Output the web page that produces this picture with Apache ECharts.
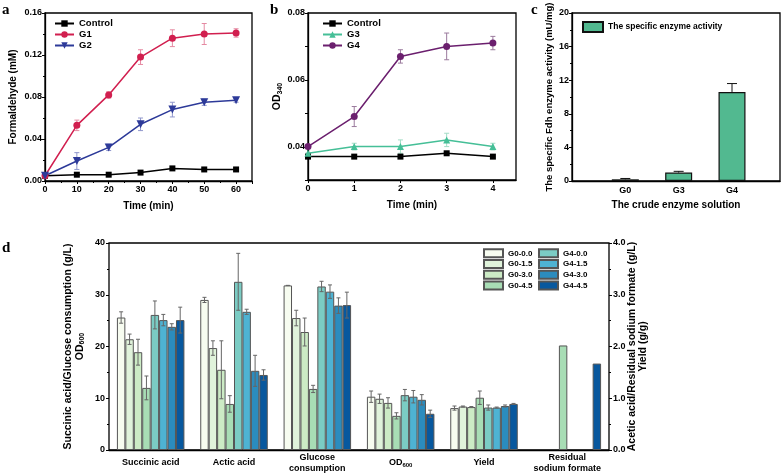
<!DOCTYPE html>
<html><head><meta charset="utf-8">
<script src="https://cdn.jsdelivr.net/npm/echarts@6/dist/echarts.min.js"></script>
<style>html,body{margin:0;padding:0;background:#fff}#c{width:783px;height:476px}</style>
</head><body><div id="c"></div>
<script>
// ---------- Panel a ----------
const timeA = [0,10,20,30,40,50,60];
const ctrlA = [0.005,0.006,0.006,0.008,0.012,0.011,0.011];
const ctrlAErr = [0,0,0,0,0.001,0.001,0];
const g1A = [0.005,0.053,0.082,0.118,0.136,0.140,0.141];
const g1AErr = [0,0.005,0.003,0.007,0.008,0.010,0.004];
const g2A = [0.005,0.019,0.032,0.054,0.068,0.075,0.077];
const g2AErr = [0,0.008,0.003,0.006,0.007,0.003,0.002];
// ---------- Panel b ----------
const timeB = [0,1,2,3,4];
const ctrlB = [0.037,0.037,0.037,0.038,0.037];
const g3B = [0.038,0.040,0.040,0.042,0.040];
const g3BErr = [0,0.001,0.002,0.002,0.001];
const g4B = [0.040,0.049,0.067,0.070,0.071];
const g4BErr = [0,0.003,0.002,0.004,0.002];
// ---------- Panel c ----------
const enzymeCats = ['G0','G3','G4'];
const enzymeVals = [0.2,1.0,10.6];
const enzymeErr = [0.1,0.15,1.0];
// ---------- Panel d ----------
const groupCats = ['Succinic acid','Actic acid','Glucose\nconsumption','OD600','Yield','Residual\nsodium formate'];
const treatNames = ['G0-0.0','G0-1.5','G0-3.0','G0-4.5','G4-0.0','G4-1.5','G4-3.0','G4-4.5'];
const succinicVals = [25.6,21.4,18.9,12.0,26.1,25.1,23.8,25.1];
const succinicErr  = [1.1,1.0,2.5,2.3,2.7,1.1,0.6,2.5];
const aceticVals   = [2.90,1.97,1.55,0.89,3.25,2.67,1.53,1.45];
const aceticErr    = [0.05,0.14,0.56,0.16,0.55,0.05,0.30,0.10];
const glucoseVals  = [31.8,25.5,22.8,11.8,31.6,30.6,27.9,28.0];
const glucoseErr   = [0,1.5,2.7,0.7,1.0,1.3,1.5,2.5];
const od600Vals    = [10.3,9.9,9.1,6.6,10.6,10.3,9.7,7.0];
const od600Err     = [1.1,0.9,1.0,0.6,1.1,1.2,1.0,0.7];
const yieldVals    = [0.81,0.84,0.83,1.01,0.82,0.82,0.85,0.89];
const yieldErr     = [0.04,0.01,0.01,0.13,0.05,0.01,0.02,0.01];
const formateVals  = [null,null,null,2.02,null,null,null,1.67];
const treatColors = ['#f7fcf0','#e0f3db','#ccebc5','#a8ddb5','#7bccc4','#4eb3d3','#2b8cbe','#08589e'];

const FONT = 'Liberation Sans';
const tick = {fontFamily:FONT,fontWeight:'bold',fontSize:9,color:'#000'};
const nameStyle = {fontFamily:FONT,fontWeight:'bold',fontSize:10,color:'#000'};
const axLine = {lineStyle:{color:'#000',width:1.3}};
const axTick = {show:true,length:3,lineStyle:{color:'#000',width:1}};
const minor = {show:true,splitNumber:2,length:2,lineStyle:{color:'#000',width:1}};
const CAT_GAP = 0.19;

function errRender(color, capW, upOnly, nBars){
  return function(params, api){
    const x = api.value(0), y = api.value(1), e = api.value(2);
    const hi = api.coord([x, y + e]);
    const lo = api.coord([x, upOnly ? y : y - e]);
    let cx = hi[0];
    if (nBars){
      const band = api.size([1,0])[0];
      const inner = band * (1 - CAT_GAP);
      const bw = inner / nBars;
      cx += -inner/2 + bw * (api.value(3) + 0.5);
    }
    const st = {stroke:color, lineWidth:1};
    const ch = [{type:'line',shape:{x1:cx,y1:hi[1],x2:cx,y2:lo[1]},style:st},
                {type:'line',shape:{x1:cx-capW,y1:hi[1],x2:cx+capW,y2:hi[1]},style:st}];
    if (!upOnly) ch.push({type:'line',shape:{x1:cx-capW,y1:lo[1],x2:cx+capW,y2:lo[1]},style:st});
    return {type:'group',children:ch};
  };
}
function errSeries(name, xi, yi, data, color, capW, upOnly, nBars, z){
  return {type:'custom',name:name,xAxisIndex:xi,yAxisIndex:yi,data:data,z:z||3,silent:true,
    renderItem:errRender(color,capW,upOnly,nBars),encode:{x:0,y:1}};
}
function lineSeries(name, xi, yi, xs, ys, color, symbol, size, rot){
  return {type:'line',name:name,xAxisIndex:xi,yAxisIndex:yi,data:xs.map((t,i)=>[t,ys[i]]),
    symbol:symbol,symbolSize:size,symbolRotate:rot||0,z:5,
    lineStyle:{color:color,width:1.5},itemStyle:{color:color},color:color};
}

const series = [];
// a
series.push(errSeries('eA0',0,0,timeA.map((t,i)=>[t,ctrlA[i],ctrlAErr[i]]),'#777',2.5));
series.push(errSeries('eA1',0,0,timeA.map((t,i)=>[t,g1A[i],g1AErr[i]]),'#e58aa2',2.5));
series.push(errSeries('eA2',0,0,timeA.map((t,i)=>[t,g2A[i],g2AErr[i]]),'#9097cc',2.5));
series.push(lineSeries('Control',0,0,timeA,ctrlA,'#000','rect',6));
series.push(lineSeries('G1',0,0,timeA,g1A,'#d11f4f','circle',7));
series.push(lineSeries('G2',0,0,timeA,g2A,'#2d3a99','triangle',8,180));
// b
series.push(errSeries('eB1',1,1,timeB.map((t,i)=>[t,g3B[i],g3BErr[i]]),'#a3dcc6',2.5));
series.push(errSeries('eB2',1,1,timeB.map((t,i)=>[t,g4B[i],g4BErr[i]]),'#9b7a9d',2.5));
series.push(lineSeries('Control',1,1,timeB,ctrlB,'#000','rect',6));
series.push(lineSeries('G3',1,1,timeB,g3B,'#45bf97','triangle',7));
series.push(lineSeries('G4',1,1,timeB,g4B,'#6b1f6e','circle',7));
// c
series.push({type:'bar',name:'The specific enzyme activity',xAxisIndex:2,yAxisIndex:2,barWidth:27,
  data:enzymeVals.map((v,i)=>[i+1,v]),itemStyle:{color:'#52b990',borderColor:'#111',borderWidth:1.2},z:2});
series.push(errSeries('eC',2,2,enzymeVals.map((v,i)=>[i+1,v,enzymeErr[i]]),'#111',5,true,0,1));
// d
treatNames.forEach((nm,i)=>{
  series.push({type:'bar',name:nm,xAxisIndex:3,yAxisIndex:3,barGap:'0%',barCategoryGap:(CAT_GAP*100)+'%',
    data:[succinicVals[i],null,glucoseVals[i],od600Vals[i],null,null],
    itemStyle:{color:treatColors[i],borderColor:'#555',borderWidth:1}});
});
treatNames.forEach((nm,i)=>{
  series.push({type:'bar',name:nm,xAxisIndex:4,yAxisIndex:4,barGap:'0%',barCategoryGap:(CAT_GAP*100)+'%',
    data:[null,aceticVals[i],null,null,yieldVals[i],formateVals[i]],
    itemStyle:{color:treatColors[i],borderColor:'#555',borderWidth:1}});
});
const errL = [], errR = [];
treatNames.forEach((nm,i)=>{
  errL.push([0,succinicVals[i],succinicErr[i],i]);
  errL.push([2,glucoseVals[i],glucoseErr[i],i]);
  errL.push([3,od600Vals[i],od600Err[i],i]);
  errR.push([1,aceticVals[i],aceticErr[i],i]);
  errR.push([4,yieldVals[i],yieldErr[i],i]);
});
series.push(errSeries('eDL',3,3,errL,'#666',2,false,8,10));
series.push(errSeries('eDR',4,4,errR,'#666',2,false,8,10));

const legTxt = {fontFamily:FONT,fontWeight:'bold',fontSize:9.5,color:'#000',lineHeight:11};
const legTxtD = {fontFamily:FONT,fontWeight:'bold',fontSize:8,color:'#000',lineHeight:10.7};
const gridBase = {show:true,borderColor:'#000',borderWidth:1.3,backgroundColor:'transparent'};

const option = {
  animation:false,
  backgroundColor:'#fff',
  grid:[
    Object.assign({left:45,top:13,width:207,height:168},gridBase),
    Object.assign({left:308,top:13,width:208,height:167},gridBase),
    Object.assign({left:572,top:13,width:210,height:168},gridBase),
    Object.assign({left:109,top:243,width:500,height:207},gridBase)
  ],
  xAxis:[
    {gridIndex:0,type:'value',min:0,max:65,interval:10,axisLine:axLine,axisTick:axTick,minorTick:minor,splitLine:{show:false},
      axisLabel:Object.assign({margin:4,showMaxLabel:false,formatter:v=>v%10===0?String(v):''},tick),
      name:'Time (min)',nameLocation:'middle',nameGap:20,nameMoveOverlap:false,nameTextStyle:nameStyle},
    {gridIndex:1,type:'value',min:0,max:4.5,interval:1,axisLine:axLine,axisTick:axTick,splitLine:{show:false},
      axisLabel:Object.assign({margin:4,showMaxLabel:false,formatter:v=>Number.isInteger(v)?String(v):''},tick),
      name:'Time (min)',nameLocation:'middle',nameGap:20,nameMoveOverlap:false,nameTextStyle:nameStyle},
    {gridIndex:2,type:'value',min:0,max:3.9,interval:1,axisLine:axLine,axisTick:{show:false},splitLine:{show:false},
      axisLabel:Object.assign({margin:5,formatter:v=>enzymeCats[v-1]||''},tick),
      name:'The crude enzyme solution',nameLocation:'middle',nameGap:19,nameMoveOverlap:false,nameTextStyle:nameStyle},
    {gridIndex:3,type:'category',data:groupCats,axisLine:axLine,axisTick:{show:false},
      axisLabel:Object.assign({margin:13,verticalAlign:'middle',lineHeight:11,interval:0,
        formatter:v=>v==='OD600'?'{o|OD}{s|600}':v,
        rich:{o:{fontFamily:FONT,fontWeight:'bold',fontSize:9,color:'#000'},
              s:{fontFamily:FONT,fontWeight:'bold',fontSize:6,color:'#000',padding:[5,0,0,0]}}},tick)},
    {gridIndex:3,type:'category',data:groupCats,show:false}
  ],
  yAxis:[
    {gridIndex:0,type:'value',min:0,max:0.16,interval:0.04,axisLine:axLine,axisTick:axTick,minorTick:minor,splitLine:{show:false},
      axisLabel:Object.assign({margin:3,formatter:v=>v.toFixed(2)},tick),
      name:'Formaldehyde (mM)',nameLocation:'middle',nameRotate:90,nameGap:27,nameMoveOverlap:false,nameTextStyle:nameStyle},
    {gridIndex:1,type:'value',min:0.03,max:0.08,interval:0.01,axisLine:axLine,axisTick:axTick,splitLine:{show:false},
      axisLabel:Object.assign({margin:3,formatter:v=>{const k=Math.round(v*100);return (k%2===0&&k>=4)?v.toFixed(2):'';}},tick),
      name:'{o|OD}{s|340}',nameLocation:'middle',nameRotate:90,nameGap:24,nameMoveOverlap:false,
      nameTextStyle:Object.assign({rich:{o:{fontFamily:FONT,fontWeight:'bold',fontSize:10.5,color:'#000'},
        s:{fontFamily:FONT,fontWeight:'bold',fontSize:7,color:'#000',padding:[6,0,0,0]}}},nameStyle)},
    {gridIndex:2,type:'value',min:0,max:20,interval:4,axisLine:axLine,axisTick:axTick,minorTick:minor,splitLine:{show:false},
      axisLabel:Object.assign({margin:3},tick),
      name:'The specific Fdh enzyme activity (mU/mg)',nameLocation:'middle',nameRotate:90,nameGap:18,nameMoveOverlap:false,
      nameTextStyle:Object.assign({},nameStyle,{fontSize:9.5})},
    {gridIndex:3,type:'value',min:0,max:40,interval:10,axisLine:axLine,axisTick:axTick,minorTick:minor,splitLine:{show:false},
      axisLabel:Object.assign({margin:4},tick),
      name:'Succinic acid/Glucose consumption (g/L)\n{o|OD}{s|600}',nameLocation:'middle',nameRotate:90,nameGap:23,nameMoveOverlap:false,
      nameTextStyle:Object.assign({},nameStyle,{fontSize:10.5,lineHeight:12,
        rich:{o:{fontFamily:FONT,fontWeight:'bold',fontSize:10.5,color:'#000',lineHeight:12},
              s:{fontFamily:FONT,fontWeight:'bold',fontSize:7,color:'#000',padding:[5,0,0,0],lineHeight:12}}})},
    {gridIndex:3,type:'value',position:'right',min:0,max:4,interval:1,axisLine:axLine,axisTick:axTick,minorTick:minor,splitLine:{show:false},
      axisLabel:Object.assign({margin:4,formatter:v=>v.toFixed(1)},tick),
      name:'Acetic acid/Residual sodium formate (g/L)\nYield (g/g)',nameLocation:'middle',nameRotate:90,nameGap:18,nameMoveOverlap:false,
      nameTextStyle:Object.assign({},nameStyle,{fontSize:10.5,lineHeight:11})}
  ],
  legend:[
    {data:['Control','G1','G2'],orient:'vertical',left:54,top:18,itemWidth:19,itemHeight:8,itemGap:0,textStyle:legTxt,padding:0},
    {data:['Control','G3','G4'],orient:'vertical',left:322,top:18,itemWidth:19,itemHeight:8,itemGap:0,textStyle:legTxt,padding:0},
    {data:[{name:'The specific enzyme activity',icon:'rect'}],left:582,top:21,itemWidth:20,itemHeight:10,padding:0,
      textStyle:Object.assign({},legTxt,{fontSize:8.5})},
    {data:treatNames.slice(0,4).map(n=>({name:n,icon:'rect'})),orient:'vertical',left:483,top:248,itemWidth:19,itemHeight:8,itemGap:0,padding:0,textStyle:legTxtD},
    {data:treatNames.slice(4).map(n=>({name:n,icon:'rect'})),orient:'vertical',left:538,top:248,itemWidth:19,itemHeight:8,itemGap:0,padding:0,textStyle:legTxtD}
  ],
  graphic:[
    {type:'text',left:2,top:3,style:{text:'a',font:'bold 15px "Liberation Serif"',fill:'#000'}},
    {type:'text',left:270,top:3,style:{text:'b',font:'bold 15px "Liberation Serif"',fill:'#000'}},
    {type:'text',left:531,top:3,style:{text:'c',font:'bold 15px "Liberation Serif"',fill:'#000'}},
    {type:'text',left:2,top:241,style:{text:'d',font:'bold 15px "Liberation Serif"',fill:'#000'}}
  ],
  series:series
};
const chart = echarts.init(document.getElementById('c'),null,{renderer:'canvas'});
chart.setOption(option);
</script></body></html>
